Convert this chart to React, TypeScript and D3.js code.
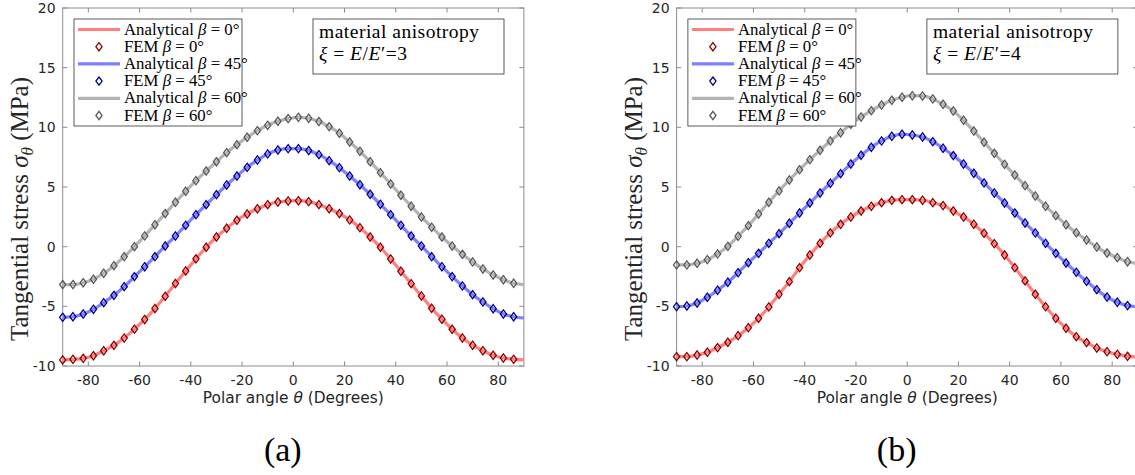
import React from "react";
import * as d3 from "d3";

// ---------- data ----------
const thetaFEM = [-90,-86,-82,-78,-74,-70,-66,-62,-58,-54,-50,-46,-42,-38,-34,-30,-26,-22,-18,-14,-10,-6,-2,2,6,10,14,18,22,26,30,34,38,42,46,50,54,58,62,66,70,74,78,82,86];
const thetaAna = [...thetaFEM, 90];

const xTicks = [-80, -60, -40, -20, 0, 20, 40, 60, 80];
const yTicks = [-10, -5, 0, 5, 10, 15, 20];

// panel (a): xi = 3
const anaRedA = [-9.49,-9.44,-9.36,-9.14,-8.72,-8.27,-7.66,-6.91,-6.10,-5.18,-4.16,-3.09,-2.04,-1.02,-0.05,0.81,1.54,2.21,2.74,3.18,3.52,3.74,3.83,3.85,3.77,3.52,3.18,2.77,2.24,1.59,0.81,-0.05,-1.03,-2.06,-3.10,-4.13,-5.16,-6.08,-6.92,-7.65,-8.26,-8.72,-9.10,-9.33,-9.44,-9.49];
const anaBlueA = [-5.92,-5.87,-5.64,-5.25,-4.69,-4.08,-3.35,-2.51,-1.68,-0.84,0.06,0.89,1.79,2.68,3.52,4.36,5.17,5.92,6.65,7.26,7.77,8.10,8.21,8.21,8.05,7.71,7.21,6.62,5.92,5.19,4.39,3.55,2.68,1.79,0.89,0.06,-0.84,-1.68,-2.51,-3.29,-4.02,-4.63,-5.20,-5.64,-5.87,-5.98];
const anaGrayA = [-3.18,-3.18,-3.02,-2.73,-2.23,-1.59,-0.84,0.00,0.90,1.84,2.77,3.72,4.64,5.53,6.34,7.12,7.88,8.55,9.17,9.72,10.17,10.51,10.73,10.84,10.76,10.48,10.06,9.50,8.77,7.99,7.12,6.20,5.25,4.31,3.39,2.49,1.63,0.81,0.06,-0.64,-1.28,-1.87,-2.37,-2.77,-3.07,-3.18];
const femRedA = anaRedA.slice(0, 45);
const femBlueA = anaBlueA.slice(0, 45);
const femGrayA = anaGrayA.slice(0, 45);

// panel (b): xi = 4
const anaRedB = [-9.22,-9.22,-9.08,-8.85,-8.46,-8.01,-7.46,-6.79,-6.00,-5.05,-3.99,-2.93,-1.76,-0.70,0.28,1.15,1.87,2.49,2.99,3.38,3.69,3.88,3.94,3.94,3.89,3.69,3.44,2.99,2.49,1.88,1.12,0.25,-0.70,-1.76,-2.87,-3.99,-5.03,-6.00,-6.84,-7.54,-8.04,-8.49,-8.80,-9.02,-9.19,-9.24];
const anaBlueB = [-5.03,-4.97,-4.72,-4.24,-3.65,-2.98,-2.18,-1.34,-0.56,0.28,1.09,1.96,2.82,3.66,4.50,5.31,6.12,6.93,7.66,8.33,8.86,9.25,9.42,9.36,9.19,8.80,8.25,7.63,6.93,6.15,5.34,4.50,3.66,2.82,1.98,1.15,0.28,-0.56,-1.37,-2.15,-2.90,-3.60,-4.22,-4.66,-4.94,-5.03];
const anaGrayB = [-1.53,-1.53,-1.39,-1.09,-0.61,0.03,0.87,1.76,2.74,3.72,4.67,5.59,6.45,7.29,8.08,8.86,9.55,10.26,10.87,11.40,11.87,12.27,12.52,12.65,12.63,12.38,11.93,11.37,10.59,9.69,8.75,7.82,6.90,6.01,5.11,4.25,3.39,2.60,1.84,1.17,0.56,-0.03,-0.53,-0.92,-1.26,-1.42];
const femRedB = anaRedB.slice(0, 45);
const femBlueB = anaBlueB.slice(0, 45);
const femGrayB = anaGrayB.slice(0, 45);

const betas = ["0", "45", "60"];
const lineColors = ["#ff7f7f", "#7f7fff", "#b3b3b3"];
const markColors = ["#8b0000", "#00008b", "#595959"];

// ---------- layout ----------
const W = 1135, H = 475;
const TOP = 8, BOTTOM = 366, PW = 461.2;
const AXIS = "#8c8c8c";
const TXT = "#262626";
const SERIF = "'Liberation Serif', 'Times New Roman', serif";
const SANS = "'DejaVu Sans', sans-serif";

function Diamond({ x, y, color }) {
  const w = 3.1, h = 4.1;
  return (
    <path
      d={`M${x},${y - h}L${x + w},${y}L${x},${y + h}L${x - w},${y}Z`}
      fill="none"
      stroke={color}
      strokeWidth={1.3}
    />
  );
}

function Panel({ left, ana, fem, xi, tag }) {
  const x = d3.scaleLinear().domain([-90, 90]).range([left, left + PW]);
  const y = d3.scaleLinear().domain([-10, 20]).range([BOTTOM, TOP]);
  const line = d3
    .line<number>()
    .x((_, i) => x(thetaAna[i]))
    .y((d) => y(d))
    .curve(d3.curveMonotoneX);
  const tl = 4.6;
  const cx = left + PW / 2;
  const legX = left + 11.3, legY = 19, legW = 168, legH = 107;
  const rowY = (i) => legY + 10.5 + i * 17.2;
  const boxX = left + 250.3;
  return (
    <g>
      {/* frame */}
      <rect x={left} y={TOP} width={PW} height={BOTTOM - TOP} fill="none" stroke={AXIS} strokeWidth={1} />
      {xTicks.map((t) => (
        <g key={"x" + t}>
          <line x1={x(t)} x2={x(t)} y1={BOTTOM} y2={BOTTOM - tl} stroke={AXIS} />
          <line x1={x(t)} x2={x(t)} y1={TOP} y2={TOP + tl} stroke={AXIS} />
          <text x={x(t)} y={385} textAnchor="middle" fontFamily={SANS} fontSize={14} fill={TXT}>
            {String(t)}
          </text>
        </g>
      ))}
      {yTicks.map((t) => (
        <g key={"y" + t}>
          <line x1={left} x2={left + tl} y1={y(t)} y2={y(t)} stroke={AXIS} />
          <line x1={left + PW} x2={left + PW - tl} y1={y(t)} y2={y(t)} stroke={AXIS} />
          <text x={left - 7} y={y(t) + 5} textAnchor="end" fontFamily={SANS} fontSize={14} fill={TXT}>
            {String(t)}
          </text>
        </g>
      ))}
      {/* data */}
      {ana.map((series, k) => (
        <g key={"s" + k}>
          <path d={line(series) || ""} fill="none" stroke={lineColors[k]} strokeWidth={3.2} />
          {fem[k].map((v, i) => (
            <Diamond key={i} x={x(thetaFEM[i])} y={y(v)} color={markColors[k]} />
          ))}
        </g>
      ))}
      {/* axis labels */}
      <text x={cx} y={403} textAnchor="middle" fontFamily={SANS} fontSize={15.4} fill={TXT}>
        Polar angle <tspan fontStyle="italic">θ</tspan> (Degrees)
      </text>
      <text
        transform={`translate(${left - 35},${209}) rotate(-90)`}
        textAnchor="middle"
        fontFamily={SERIF}
        fontSize={25}
        fill={TXT}
      >
        Tangential stress <tspan fontStyle="italic">σ</tspan>
        <tspan fontStyle="italic" fontSize={17} dy={5}>θ</tspan>
        <tspan dy={-5}> (MPa)</tspan>
      </text>
      {/* legend */}
      <rect x={legX} y={legY} width={legW} height={legH} fill="#fff" stroke="#333" strokeWidth={0.8} />
      {betas.map((b, k) => (
        <g key={"l" + k}>
          <line x1={legX + 4} x2={legX + 46} y1={rowY(2 * k)} y2={rowY(2 * k)} stroke={lineColors[k]} strokeWidth={3.2} />
          <text x={legX + 50} y={rowY(2 * k) + 5} fontFamily={SERIF} fontSize={16.8} fill="#000">
            Analytical <tspan fontStyle="italic">β</tspan> = {b}°
          </text>
          <Diamond x={legX + 25} y={rowY(2 * k + 1)} color={markColors[k]} />
          <text x={legX + 50} y={rowY(2 * k + 1) + 5} fontFamily={SERIF} fontSize={16.8} fill="#000">
            FEM <tspan fontStyle="italic">β</tspan> = {b}°
          </text>
        </g>
      ))}
      {/* annotation box */}
      <rect x={boxX} y={19} width={191} height={55} fill="#fff" stroke="#333" strokeWidth={0.8} />
      <text x={boxX + 6} y={37.5} fontFamily={SERIF} fontSize={19.5} letterSpacing={0.5} fill="#000">
        material anisotropy
      </text>
      <text x={boxX + 6} y={59.5} fontFamily={SERIF} fontSize={19.5} letterSpacing={0.5} fill="#000">
        <tspan fontStyle="italic">ξ</tspan> = <tspan fontStyle="italic">E</tspan>/<tspan fontStyle="italic">E</tspan>′={xi}
      </text>
      {/* panel tag */}
      <text x={cx - 10.5} y={461} textAnchor="middle" fontFamily={SERIF} fontSize={34} fill="#000">
        {tag}
      </text>
    </g>
  );
}

export default function App() {
  return (
    <svg
      width={W}
      height={H}
      viewBox={`0 0 ${W} ${H}`}
      style={{ position: "absolute", left: 0, top: 0, background: "#fff" }}
    >
      <rect x={0} y={0} width={W} height={H} fill="#fff" />
      <Panel left={62.7} ana={[anaRedA, anaBlueA, anaGrayA]} fem={[femRedA, femBlueA, femGrayA]} xi="3" tag="(a)" />
      <Panel left={676.6} ana={[anaRedB, anaBlueB, anaGrayB]} fem={[femRedB, femBlueB, femGrayB]} xi="4" tag="(b)" />
    </svg>
  );
}
